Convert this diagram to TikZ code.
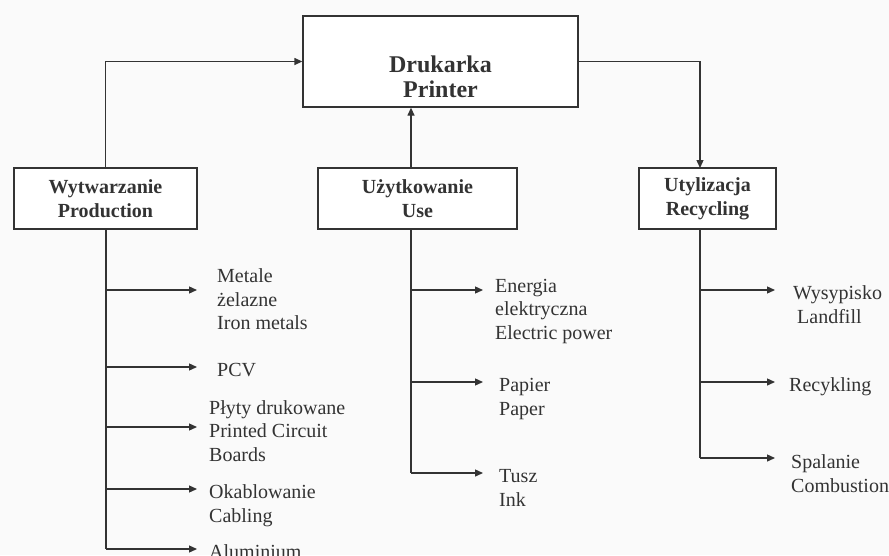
\documentclass[tikz,border=0pt]{standalone}
\usepackage{fontspec}
\setmainfont{Liberation Serif}
\usetikzlibrary{arrows.meta}
\definecolor{ink}{HTML}{333333}
\definecolor{bg}{HTML}{FAFAFA}
\tikzset{
  conn/.style={draw=ink, line width=1.3pt},
  arr/.style={conn, -{Triangle[length=8pt,width=7pt]}},
  boxnode/.style={draw=ink, line width=1.3pt, fill=white, align=center, text=ink,
    font=\fontsize{20}{24}\selectfont\bfseries, inner sep=0pt},
  lbl/.style={anchor=base west, inner sep=0pt, align=left, text=ink,
    font=\fontsize{20}{23.5}\selectfont}
}
\begin{document}
\begin{tikzpicture}[x=1pt,y=-1pt]
\path[fill=bg] (0,0) rectangle (889,555);
\useasboundingbox (0,0) rectangle (889,555);

% main boxes
\node[boxnode, minimum width=275pt, minimum height=91pt] (printer) at (440.5,61.5) {};
\node[align=center, text=ink, inner sep=0pt, font=\fontsize{24}{25}\selectfont\bfseries, anchor=base] (printertext) at (440.5,97) {Drukarka\\Printer};
\node[boxnode, minimum width=183pt, minimum height=61pt] (prod) at (105.5,198.5) {Wytwarzanie\\Production};
\node[boxnode, minimum width=199pt, minimum height=61pt] (use) at (417.5,198.5) {Użytkowanie\\Use};
\node[boxnode, minimum width=137pt, minimum height=61pt] (rec) at (707.5,198.5) {Utylizacja\\Recycling};

% connectors to printer
\coordinate (ustem) at (411,168);
\coordinate (rstem) at (700,168);
\draw[arr] (prod.north) |- (printer.west);
\draw[arr] (ustem) -- (ustem |- printer.south);
\draw[arr] (printer.east) -| (rstem);

% production branch
\coordinate (ptop) at (106,229);
\coordinate (pend) at (106,549);
\draw[conn] (ptop) -- (pend);
\foreach \y [count=\i] in {290,367,427,489,549}{
  \coordinate (pb\i) at (106,\y);
  \coordinate (pa\i) at (197,\y);
  \draw[arr] (pb\i) -- (pa\i);
}
\node[lbl] (m1) at (217,329.5) {Metale\\żelazne\\Iron metals};
\node[lbl] (m2) at (217,376) {PCV};
\node[lbl] (m3) at (209,461) {Płyty drukowane\\Printed Circuit\\Boards};
\node[lbl] (m4) at (209,522) {Okablowanie\\Cabling};
\node[lbl] (m5) at (209,558) {Aluminium};

% use branch
\coordinate (utop) at (411,229);
\coordinate (uend) at (411,473);
\draw[conn] (utop) -- (uend);
\foreach \y [count=\i] in {290,382,473}{
  \coordinate (ub\i) at (411,\y);
  \coordinate (ua\i) at (483,\y);
  \draw[arr] (ub\i) -- (ua\i);
}
\node[lbl] (u1) at (495,339) {Energia\\elektryczna\\Electric power};
\node[lbl] (u2) at (499,415) {Papier\\Paper};
\node[lbl] (u3) at (499,506) {Tusz\\Ink};

% recycling branch
\coordinate (rtop) at (700,229);
\coordinate (rend) at (700,458);
\draw[conn] (rtop) -- (rend);
\foreach \y [count=\i] in {290,382,458}{
  \coordinate (rb\i) at (700,\y);
  \coordinate (ra\i) at (775,\y);
  \draw[arr] (rb\i) -- (ra\i);
}
\node[lbl] (r1) at (793,323) {Wysypisko\\\hspace*{4pt}Landfill};
\node[lbl] (r2) at (789,391) {Recykling};
\node[lbl] (r3) at (791,492) {Spalanie\\Combustion};
\end{tikzpicture}
\end{document}
